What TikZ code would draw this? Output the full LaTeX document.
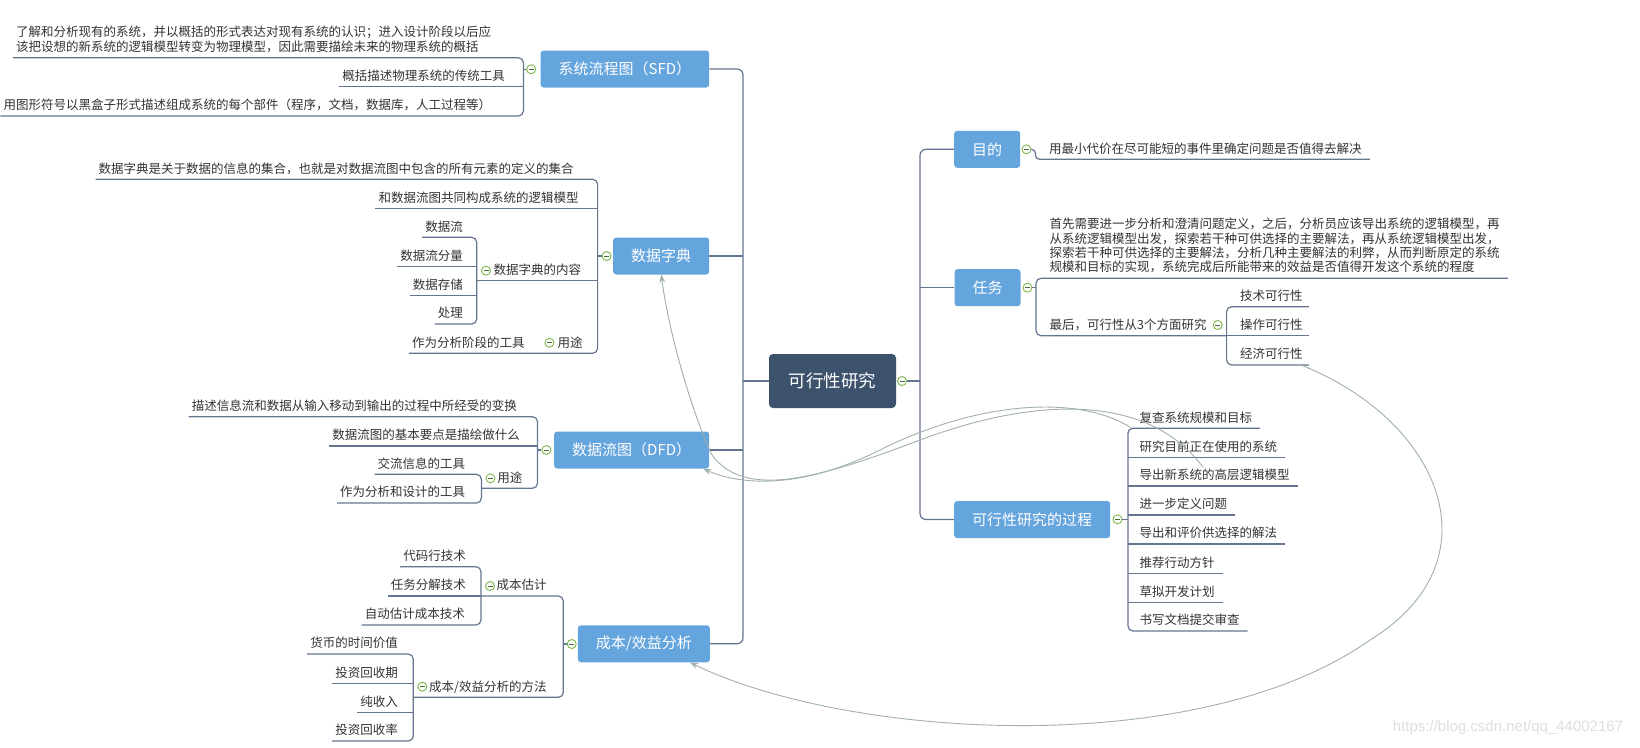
\documentclass[tikz,border=0pt]{standalone}
\usepackage{fontspec}
\setmainfont{Noto Sans CJK SC}
\newfontfamily\wmfont{Liberation Sans}
\usetikzlibrary{arrows.meta}

\definecolor{rootc}{RGB}{61,82,108}
\definecolor{mainc}{RGB}{101,165,221}
\definecolor{linec}{RGB}{100,117,143}
\definecolor{relc}{RGB}{160,176,172}
\definecolor{togc}{RGB}{125,183,74}
\definecolor{txtc}{RGB}{51,51,51}

\newcommand\leaffont{\fontsize{12.5}{14.3}\selectfont}
\newcommand\branchfont{\fontsize{15}{18}\selectfont}
\newcommand\rootfont{\fontsize{17.5}{21}\selectfont}

\tikzset{
  rootbox/.style={fill=rootc, text=white, font=\rootfont, rounded corners=4pt,
    minimum width=127pt, minimum height=54pt},
  branch/.style={fill=mainc, text=white, font=\branchfont, rounded corners=3pt,
    minimum height=37pt, inner xsep=18pt},
  leaf/.style={font=\leaffont, text=txtc, inner xsep=3pt, inner ysep=2pt,
    text height=10pt, text depth=4pt},
  rleaf/.style={leaf, inner xsep=8pt},
  para/.style={font=\leaffont, text=txtc, inner xsep=3pt, inner ysep=2pt, align=left},
  tog/.style={circle, draw=togc, fill=white, line width=0.9pt, minimum size=9pt,
    inner sep=0pt, path picture={\draw[togc!60!black, line width=0.9pt]
      ([xshift=2pt]path picture bounding box.west) -- ([xshift=-2pt]path picture bounding box.east);}},
  conn/.style={draw=linec, line width=1.2pt},
  rel/.style={draw=relc, line width=0.9pt, -{Stealth[length=8pt,width=6pt]}}
}

\begin{document}
\begin{tikzpicture}[x=1pt, y=-1pt]
    \path[use as bounding box, fill=white] (0,0) rectangle (1640,747);

    % centre and main branches
    \node[rootbox] (root) at (832.5,381) {可行性研究};
    \node[tog] (rootT) at (902,381) {};
    \node[branch, anchor=east] (sfd) at (709.4,69) {系统流程图（SFD）};
    \node[branch, anchor=east] (dd) at (709.4,256) {数据字典};
    \node[branch, anchor=east] (dfd) at (709.3,450) {数据流图（DFD）};
    \node[branch, anchor=east] (cost) at (710,643.8) {成本/效益分析};
    \node[branch, anchor=west] (md) at (954,149.3) {目的};
    \node[branch, anchor=west] (rw) at (954.3,287.7) {任务};
    \node[branch, anchor=west] (gc) at (954,519.5) {可行性研究的过程};
    \node[tog] (sfdT) at (531.2,69.3) {};
    \node[tog] (ddT) at (606.5,256) {};
    \node[tog] (dfdT) at (546.4,450) {};
    \node[tog] (costT) at (571.7,644) {};
    \node[tog] (mdT) at (1026.5,149.3) {};
    \node[tog] (rwT) at (1027.5,287.7) {};
    \node[tog] (gcT) at (1117.5,519.3) {};

    \coordinate (lt) at (743,0);
    \coordinate (rt) at (920,0);
    \draw[conn] (root.west) -- (root.west -| lt);
    \draw[conn, rounded corners=6pt] (sfd.east) -- (sfd.east -| lt) -- (cost.east -| lt) -- (cost.east);
    \draw[conn] (dd.east) -- (dd.east -| lt);
    \draw[conn] (dfd.east) -- (dfd.east -| lt);
    \draw[conn] (rootT.east) -- (rootT.east -| rt);
    \draw[conn, rounded corners=6pt] (md.west) -- (md.west -| rt) -- (gc.west -| rt) -- (gc.west);
    \draw[conn] (rw.west) -- (rw.west -| rt);

    % 系统流程图
    \coordinate (sfdB) at (523.4,0);
    \node[para, anchor=south west] (s1) at (13,57.7) {了解和分析现有的系统，并以概括的形式表达对现有系统的认识；进入设计阶段以后应\\该把设想的新系统的逻辑模型转变为物理模型，因此需要描绘未来的物理系统的概括\strut};
    \node[leaf, anchor=south east] (s2) at (508,86.7) {概括描述物理系统的传统工具};
    \node[leaf, anchor=south east] (s3) at (494.3,116) {用图形符号以黑盒子形式描述组成系统的每个部件（程序，文档，数据库，人工过程等）};
    \draw[conn] (sfdT.west) -- (sfdB |- sfdT.west);
    \draw[conn, rounded corners=5pt] (s1.south west) -- (sfdB |- s1.south) -- (sfdB |- s3.south) -- (s3.south west);
    \draw[conn] (s2.south west) -- (sfdB |- s2.south);

    % 数据字典
    \coordinate (ddB) at (597.6,0);
    \coordinate (ddB2) at (476.7,0);
    \node[leaf, anchor=south east] (d1) at (576.9,179.3) {数据字典是关于数据的信息的集合，也就是对数据流图中包含的所有元素的定义的集合};
    \node[leaf, anchor=south east] (d2) at (581.8,208.3) {和数据流图共同构成系统的逻辑模型};
    \node[leaf, anchor=south east] (d3) at (584.2,280.7) {数据字典的内容};
    \node[tog] (ddcT) at (486,270.7) {};
    \node[leaf, anchor=south east] (d31) at (466,237.3) {数据流};
    \node[leaf, anchor=south east] (d32) at (466,266.7) {数据流分量};
    \node[leaf, anchor=south east] (d33) at (466,295.7) {数据存储};
    \node[leaf, anchor=south east] (d34) at (466,324) {处理};
    \node[leaf, anchor=south east] (d4) at (585.9,353.3) {用途};
    \node[tog] (ddyT) at (549.4,342.7) {};
    \node[leaf, anchor=south east] (d41) at (527.9,353.3) {作为分析阶段的工具};
    \draw[conn] (ddT.west) -- (ddB |- ddT.west);
    \draw[conn, rounded corners=5pt] (d1.south west) -- (ddB |- d1.south) -- (ddB |- d4.south) -- (d41.south west);
    \draw[conn] (d2.south west) -- (ddB |- d2.south);
    \draw[conn] (ddB2 |- d3.south) -- (ddB |- d3.south);
    \draw[conn, rounded corners=5pt] (d31.south west) -- (ddB2 |- d31.south) -- (ddB2 |- d34.south) -- (d34.south west);
    \draw[conn] (d32.south west) -- (ddB2 |- d32.south);
    \draw[conn] (d33.south west) -- (ddB2 |- d33.south);

    % 数据流图
    \coordinate (dfdB) at (537.5,0);
    \coordinate (dfdB2) at (481.4,0);
    \node[leaf, anchor=south east] (f1) at (520,416.7) {描述信息流和数据从输入移动到输出的过程中所经受的变换};
    \node[leaf, anchor=south east] (f2) at (523,446) {数据流图的基本要点是描绘做什么};
    \node[leaf, anchor=south east] (f3) at (525.5,488.3) {用途};
    \node[tog] (dfdyT) at (490.4,478.3) {};
    \node[leaf, anchor=south east] (f31) at (468.4,474.3) {交流信息的工具};
    \node[leaf, anchor=south east] (f32) at (468.4,503) {作为分析和设计的工具};
    \draw[conn] (dfdT.west) -- (dfdB |- dfdT.west);
    \draw[conn, rounded corners=5pt] (f1.south west) -- (dfdB |- f1.south) -- (dfdB |- f3.south) -- (dfdB2 |- f3.south);
    \draw[conn] (f2.south west) -- (dfdB |- f2.south);
    \draw[conn, rounded corners=5pt] (f31.south west) -- (dfdB2 |- f31.south) -- (dfdB2 |- f32.south) -- (f32.south west);

    % 成本/效益分析
    \coordinate (costB) at (563.3,0);
    \coordinate (costB2) at (481,0);
    \coordinate (costB3) at (413.3,0);
    \node[leaf, anchor=south east] (c1) at (549.7,596) {成本估计};
    \node[tog] (ce1T) at (490,586) {};
    \node[leaf, anchor=south east] (c11) at (469,566.7) {代码行技术};
    \node[leaf, anchor=south east] (c12) at (469,596) {任务分解技术};
    \node[leaf, anchor=south east] (c13) at (468,625) {自动估计成本技术};
    \node[leaf, anchor=south east] (c2) at (549.7,697.3) {成本/效益分析的方法};
    \node[tog] (ce2T) at (422.3,686.7) {};
    \node[leaf, anchor=south east] (c21) at (401,654) {货币的时间价值};
    \node[leaf, anchor=south east] (c22) at (401,683.3) {投资回收期};
    \node[leaf, anchor=south east] (c23) at (401,712.3) {纯收入};
    \node[leaf, anchor=south east] (c24) at (401,741) {投资回收率};
    \draw[conn] (costT.west) -- (costB |- costT.west);
    \draw[conn, rounded corners=5pt] (costB2 |- c1.south) -- (costB |- c1.south) -- (costB |- c2.south) -- (costB3 |- c2.south);
    \draw[conn, rounded corners=5pt] (c11.south west) -- (costB2 |- c11.south) -- (costB2 |- c13.south) -- (c13.south west);
    \draw[conn] (c12.south west) -- (costB2 |- c12.south);
    \draw[conn, rounded corners=5pt] (c21.south west) -- (costB3 |- c21.south) -- (costB3 |- c24.south) -- (c24.south west);
    \draw[conn] (c22.south west) -- (costB3 |- c22.south);
    \draw[conn] (c23.south west) -- (costB3 |- c23.south);

    % 目的
    \node[rleaf, anchor=south west] (md1) at (1041,159.3) {用最小代价在尽可能短的事件里确定问题是否值得去解决};
    \draw[conn, rounded corners=4pt] (mdT.east) -- ++(4,0) |- (md1.south east);

    % 任务
    \coordinate (rwB) at (1036,0);
    \coordinate (fxB) at (1226.6,0);
    \node[para, inner xsep=8pt, anchor=south west] (r1) at (1041.4,278.3) {首先需要进一步分析和澄清问题定义，之后，分析员应该导出系统的逻辑模型，再\\从系统逻辑模型出发，探索若干种可供选择的主要解法，再从系统逻辑模型出发，\\探索若干种可供选择的主要解法，分析几种主要解法的利弊，从而判断原定的系统\\规模和目标的实现，系统完成后所能带来的效益是否值得开发这个系统的程度\strut};
    \node[rleaf, anchor=south west] (r2) at (1041.4,335.7) {最后，可行性从3个方面研究};
    \node[tog] (fxT) at (1217.7,325) {};
    \node[leaf, inner xsep=6pt, anchor=south west] (r21) at (1234,306.7) {技术可行性};
    \node[leaf, inner xsep=6pt, anchor=south west] (r22) at (1234,335.7) {操作可行性};
    \node[leaf, inner xsep=6pt, anchor=south west] (r23) at (1234,365) {经济可行性};
    \draw[conn] (rwT.east) -- (rwB |- rwT.east);
    \draw[conn, rounded corners=5pt] (r1.south east) -- (rwB |- r1.south) -- (rwB |- r2.south) -- (fxB |- r2.south);
    \draw[conn, rounded corners=5pt] (r21.south east) -- (fxB |- r21.south) -- (fxB |- r23.south) -- (r23.south east);
    \draw[conn] (r22.south east) -- (fxB |- r22.south);

    % 可行性研究的过程
    \coordinate (gcB) at (1127.9,0);
    \node[rleaf, anchor=south west] (g1) at (1131.3,428.3) {复查系统规模和目标};
    \node[rleaf, anchor=south west] (g2) at (1131.3,457.3) {研究目前正在使用的系统};
    \node[rleaf, anchor=south west] (g3) at (1131.3,486) {导出新系统的高层逻辑模型};
    \node[rleaf, anchor=south west] (g4) at (1131.3,515) {进一步定义问题};
    \node[rleaf, anchor=south west] (g5) at (1131.3,544) {导出和评价供选择的解法};
    \node[rleaf, anchor=south west] (g6) at (1131.3,573.3) {推荐行动方针};
    \node[rleaf, anchor=south west] (g7) at (1131.3,602.3) {草拟开发计划};
    \node[rleaf, anchor=south west] (g8) at (1131.3,631) {书写文档提交审查};
    \draw[conn] (gcT.east) -- (gcB |- gcT.east);
    \draw[conn, rounded corners=5pt] (g1.south east) -- (gcB |- g1.south) -- (gcB |- g8.south) -- (g8.south east);
    \draw[conn] (g2.south east) -- (gcB |- g2.south);
    \draw[conn] (g3.south east) -- (gcB |- g3.south);
    \draw[conn] (g4.south east) -- (gcB |- g4.south);
    \draw[conn] (g5.south east) -- (gcB |- g5.south);
    \draw[conn] (g6.south east) -- (gcB |- g6.south);
    \draw[conn] (g7.south east) -- (gcB |- g7.south);

    % relationship lines
    \draw[rel] ([xshift=-8pt]r23.south east) .. controls (1440,420) and (1500,560) .. (1370,640)
        .. controls (1200,760) and (850,740) .. ([xshift=-20pt]cost.south east);
    \draw[rel] ([yshift=11pt]g2.north west) .. controls (1080,395) and (980,400) .. (880,450)
        .. controls (800,490) and (740,485) .. ([xshift=-6pt]dfd.south east);
    \draw[rel] ([xshift=72pt]g3.north west) .. controls (1150,395) and (1040,395) .. (920,440)
        .. controls (820,478) and (745,500) .. (712,455)
        .. controls (695,420) and (670,340) .. (dd.south);

    \node[text=gray!25, font=\wmfont\fontsize{15}{18}\selectfont] (wmk) at (1508,728) {https://blog.csdn.net/qq\_44002167};
\end{tikzpicture}
\end{document}
